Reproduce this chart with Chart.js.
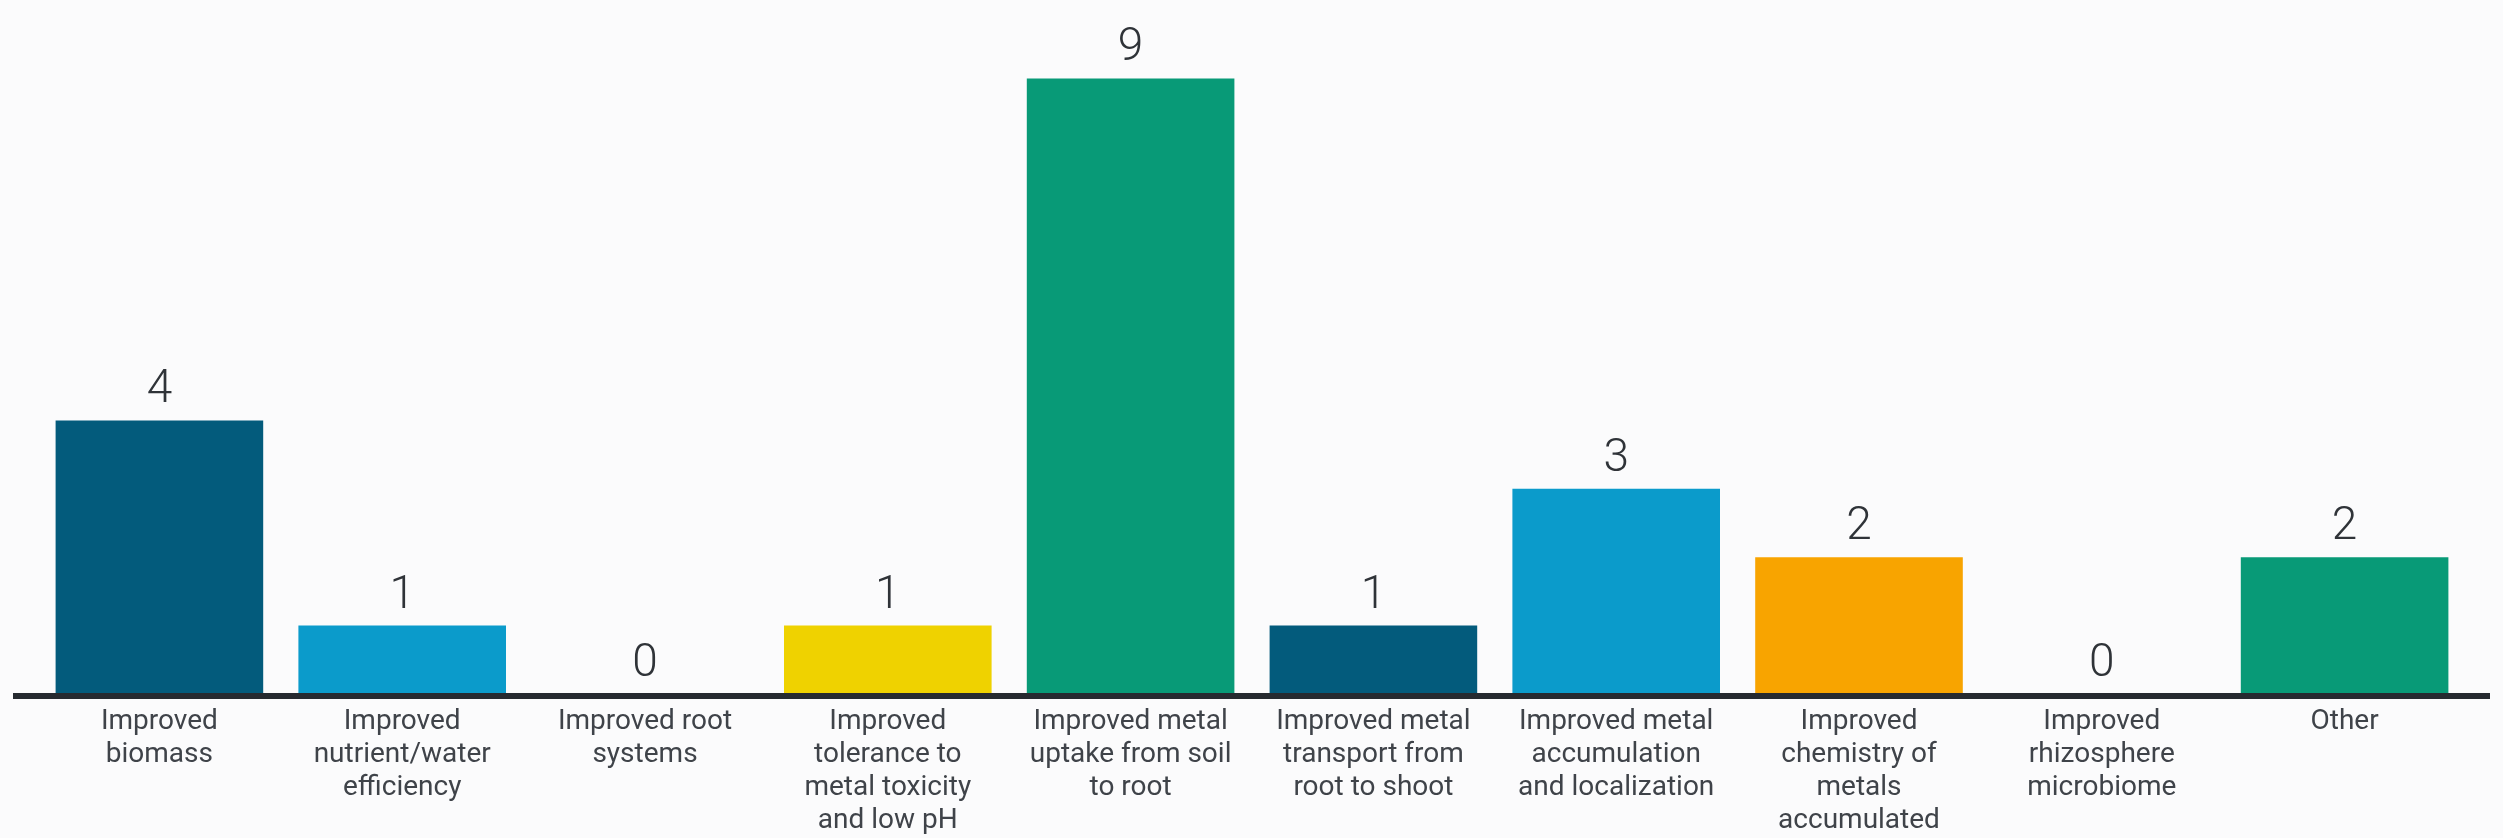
<!DOCTYPE html>
<html>
<head>
<meta charset="utf-8">
<script src="https://cdn.jsdelivr.net/npm/chart.js@4"></script>
<style>
  html, body { margin: 0; padding: 0; background: #fbfbfc; }
  #chart { display: block; }
</style>
</head>
<body>
<canvas id="chart" width="2503" height="838"></canvas>
<script>
const categories = [
  ["Improved", "biomass"],
  ["Improved", "nutrient/water", "efficiency"],
  ["Improved root", "systems"],
  ["Improved", "tolerance to", "metal toxicity", "and low pH"],
  ["Improved metal", "uptake from soil", "to root"],
  ["Improved metal", "transport from", "root to shoot"],
  ["Improved metal", "accumulation", "and localization"],
  ["Improved", "chemistry of", "metals", "accumulated"],
  ["Improved", "rhizosphere", "microbiome"],
  ["Other"],
];
const counts = [4, 1, 0, 1, 9, 1, 3, 2, 0, 2];
const barColors = [
  "#035b7c", "#0b9bcb", "#035b7c", "#efd200", "#089a77",
  "#035b7c", "#0b9bcb", "#f8a400", "#089a77", "#089a77",
];

// baseline drawn wider than the plot, like in the original
const baseline = {
  id: "baseline",
  afterDatasetsDraw(chart) {
    const ctx = chart.ctx;
    const y0 = chart.scales.y.getPixelForValue(0);
    ctx.save();
    ctx.fillStyle = "#262a30";
    ctx.fillRect(13, y0 - 1, 2477, 6);
    ctx.restore();
  },
};

const valueLabels = {
  id: "valueLabels",
  afterDatasetsDraw(chart) {
    const ctx = chart.ctx;
    const meta = chart.getDatasetMeta(0);
    ctx.save();
    ctx.font = "300 46px Roboto";
    ctx.fillStyle = "#2f3338";
    ctx.textAlign = "center";
    ctx.textBaseline = "alphabetic";
    meta.data.forEach((bar, i) => {
      ctx.fillText(String(counts[i]), bar.x, bar.y - 18);
    });
    ctx.restore();
  },
};

new Chart(document.getElementById("chart"), {
  type: "bar",
  data: {
    labels: categories,
    datasets: [
      {
        data: counts,
        backgroundColor: barColors,
        borderWidth: 0,
        categoryPercentage: 1,
        barPercentage: 0.855,
      },
    ],
  },
  options: {
    responsive: false,
    animation: false,
    devicePixelRatio: 1,
    layout: { padding: { top: 10, left: 38, right: 37, bottom: 0 } },
    plugins: {
      legend: { display: false },
      tooltip: { enabled: false },
    },
    scales: {
      y: {
        display: false,
        min: 0,
        max: 10,
      },
      x: {
        grid: { display: false, drawTicks: false },
        border: { display: false },
        afterFit(scale) {
          scale.height = 144;
        },
        ticks: {
          autoSkip: false,
          maxRotation: 0,
          minRotation: 0,
          padding: 12,
          color: "#3f4349",
          font: { family: "Roboto", size: 28, lineHeight: 1.17 },
        },
      },
    },
  },
  plugins: [baseline, valueLabels],
});
</script>
</body>
</html>
